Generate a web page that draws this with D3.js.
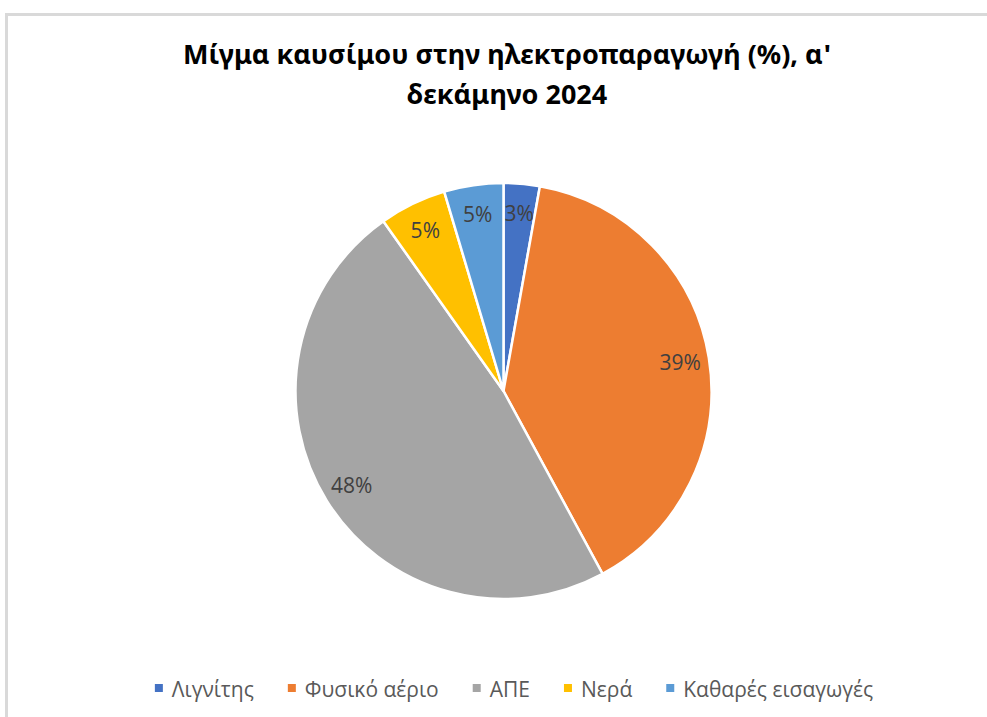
<!DOCTYPE html>
<html>
<head>
<meta charset="utf-8">
<script src="https://cdn.jsdelivr.net/npm/d3@7"></script>
<style>
  html, body { margin: 0; padding: 0; background: #ffffff; }
  svg { display: block; }
</style>
</head>
<body>
<svg id="chart" width="987" height="717"></svg>
<script>
// ---- data ----
const categories = ["Λιγνίτης", "Φυσικό αέριο", "ΑΠΕ", "Νερά", "Καθαρές εισαγωγές"];
const values = [2.8, 39.3, 48.1, 5.2, 4.6];
const colors = ["#4472C4", "#ED7D31", "#A5A5A5", "#FFC000", "#5B9BD5"];
const titleLines = ["Μίγμα καυσίμου στην ηλεκτροπαραγωγή (%), α'", "δεκάμηνο 2024"];

const svg = d3.select("#chart");

// chart-area border
svg.append("rect")
  .attr("x", 6.5).attr("y", 14.5)
  .attr("width", 1000).attr("height", 800)
  .attr("fill", "#ffffff")
  .attr("stroke", "#d9d9d9").attr("stroke-width", 3);

// title
const title = svg.append("text")
  .attr("text-anchor", "middle")
  .attr("font-family", "'Noto Sans', sans-serif")
  .attr("font-weight", "bold")
  .attr("font-size", 27)
  .attr("fill", "#000000");
titleLines.forEach((t, i) => {
  title.append("tspan").attr("x", 507).attr("y", 64 + i * 40).text(t);
});

// pie
const cx = 503.5, cy = 391, R = 208;
const data = categories.map((c, i) => ({ cat: c, value: values[i], color: colors[i] }));
const pie = d3.pie().value(d => d.value).sort(null);
const arcs = pie(data);
const arc = d3.arc().innerRadius(0).outerRadius(R);
const labelArc = d3.arc().innerRadius(R * 0.86).outerRadius(R * 0.86);

const g = svg.append("g").attr("transform", `translate(${cx},${cy})`);
g.selectAll("path").data(arcs).join("path")
  .attr("d", arc)
  .attr("fill", d => d.data.color)
  .attr("stroke", "#ffffff")
  .attr("stroke-width", 2.5)
  .attr("stroke-linejoin", "round");

g.selectAll("text.lbl").data(arcs).join("text")
  .attr("class", "lbl")
  .attr("transform", d => `translate(${labelArc.centroid(d)})`)
  .attr("text-anchor", "middle")
  .attr("dominant-baseline", "central")
  .attr("font-family", "'Open Sans', sans-serif")
  .attr("font-size", 21)
  .attr("fill", "#404040")
  .text(d => Math.round(d.data.value) + "%");

// legend
const legend = svg.append("g");
const items = legend.selectAll("g").data(data).join("g");
items.append("rect")
  .attr("width", 8).attr("height", 8)
  .attr("y", 684)
  .attr("fill", d => d.color);
items.append("text")
  .attr("y", 689)
  .attr("dominant-baseline", "central")
  .attr("font-family", "'Open Sans', sans-serif")
  .attr("font-size", 21)
  .attr("fill", "#595959")
  .text(d => d.cat);

const markerW = 8, gapText = 9, gapItem = 34;
const widths = [];
items.select("text").each(function () { widths.push(this.getComputedTextLength()); });
const total = widths.reduce((a, w) => a + markerW + gapText + w, 0) + gapItem * (widths.length - 1);
let x = 514 - total / 2;
items.each(function (d, i) {
  const it = d3.select(this);
  it.select("rect").attr("x", x);
  it.select("text").attr("x", x + markerW + gapText);
  x += markerW + gapText + widths[i] + gapItem;
});
</script>
</body>
</html>
